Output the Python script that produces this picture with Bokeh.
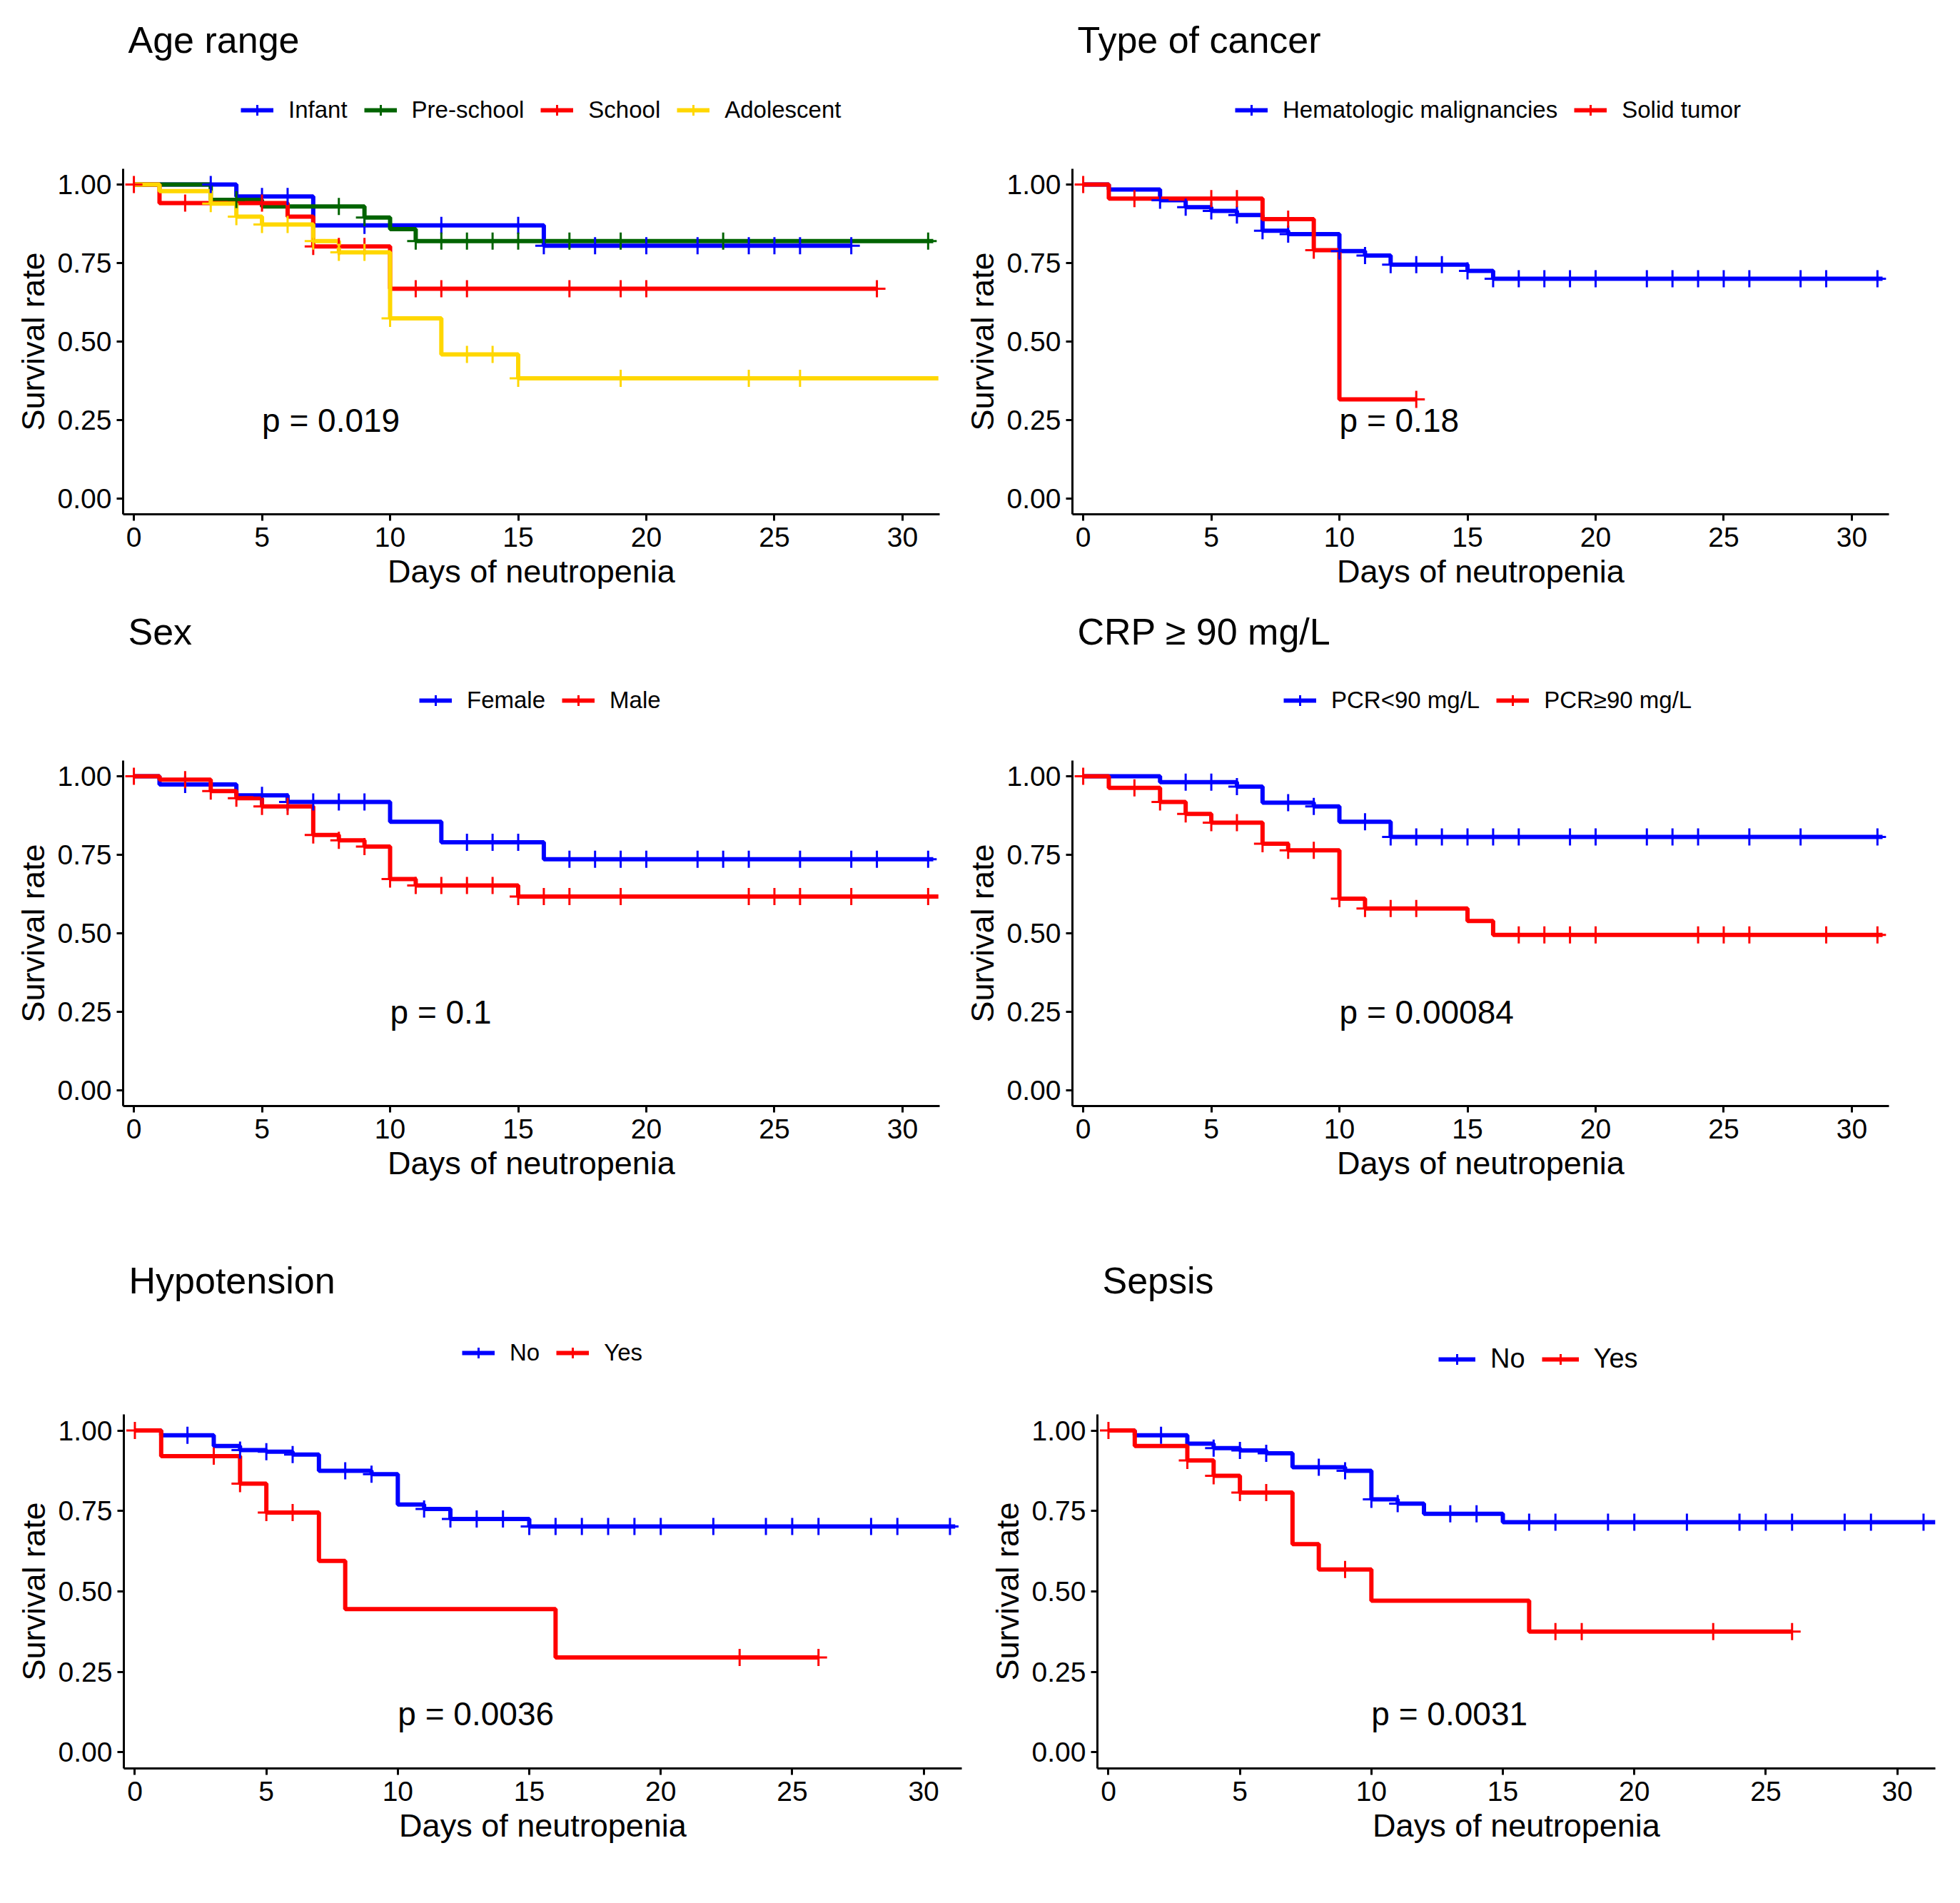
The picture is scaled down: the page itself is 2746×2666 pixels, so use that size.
from bokeh.plotting import figure
from bokeh.models import Range1d, FixedTicker, Legend, LegendItem, NumeralTickFormatter, Spacer
from bokeh.layouts import column, row
from bokeh.embed import file_html
from bokeh.resources import INLINE
from bokeh.core.properties import value

FONT = "Liberation Sans"
NAN = float("nan")

# ------------------------------------------------------------------ data
x_ticks = [0, 5, 10, 15, 20, 25, 30]
y_ticks = [0.0, 0.25, 0.5, 0.75, 1.0]
x_title = "Days of neutropenia"
y_title = "Survival rate"

# Age range
age_infant_time = [0, 4, 7, 16]
age_infant_surv = [1.0, 0.962, 0.870, 0.805]
age_infant_cens = [3, 5, 6, 9, 12, 15, 16, 18, 20, 22, 24, 25, 26, 28]
age_infant_end = 28

age_pre_time = [0, 3, 5, 9, 10, 11]
age_pre_surv = [1.0, 0.951, 0.930, 0.895, 0.858, 0.820]
age_pre_cens = [4, 8, 9, 11, 12, 13, 14, 15, 17, 19, 23, 31]
age_pre_end = 31.2

age_school_time = [0, 1, 6, 7, 10]
age_school_surv = [1.0, 0.941, 0.898, 0.803, 0.668]
age_school_cens = [0, 2, 5, 7, 8, 9, 11, 12, 13, 17, 19, 20, 29]
age_school_end = 29

age_adol_time = [0, 1, 3, 4, 5, 7, 8, 10, 12, 15]
age_adol_surv = [1.0, 0.979, 0.939, 0.898, 0.873, 0.820, 0.784, 0.574, 0.459, 0.383]
age_adol_cens = [3, 4, 5, 6, 7, 8, 9, 10, 13, 14, 15, 19, 24, 26]
age_adol_end = 31.4

# Type of cancer
ca_hem_time = [0, 1, 3, 4, 5, 6, 7, 8, 10, 11, 12, 15, 16]
ca_hem_surv = [1.0, 0.984, 0.950, 0.928, 0.916, 0.903, 0.853, 0.842, 0.788, 0.774, 0.745, 0.725, 0.700]
ca_hem_cens = [3, 4, 5, 6, 7, 8, 10, 11, 12, 13, 14, 15, 16, 17, 18, 19, 20, 22, 23, 24, 25, 26, 28, 29, 31]
ca_hem_end = 31.2

ca_solid_time = [0, 1, 7, 9, 10]
ca_solid_surv = [1.0, 0.955, 0.890, 0.791, 0.316]
ca_solid_cens = [0, 2, 5, 6, 8, 9, 13]
ca_solid_end = 13

# Sex
sex_f_time = [0, 1, 4, 6, 10, 12, 16]
sex_f_surv = [1.0, 0.974, 0.939, 0.918, 0.855, 0.790, 0.736]
sex_f_cens = [2, 5, 6, 7, 8, 9, 13, 14, 15, 17, 18, 19, 20, 22, 23, 24, 26, 28, 29, 31]
sex_f_end = 31.2

sex_m_time = [0, 1, 3, 4, 5, 7, 8, 9, 10, 11, 15]
sex_m_surv = [1.0, 0.989, 0.953, 0.930, 0.904, 0.813, 0.796, 0.776, 0.673, 0.652, 0.617]
sex_m_cens = [0, 2, 3, 4, 5, 6, 7, 8, 9, 10, 11, 12, 13, 14, 15, 16, 17, 19, 24, 25, 26, 28, 31]
sex_m_end = 31.4

# CRP
crp_lo_time = [0, 3, 6, 7, 9, 10, 12]
crp_lo_surv = [1.0, 0.981, 0.967, 0.916, 0.904, 0.855, 0.807]
crp_lo_cens = [4, 5, 6, 8, 9, 11, 12, 13, 14, 15, 16, 17, 19, 20, 22, 23, 24, 26, 28, 31]
crp_lo_end = 31.2

crp_hi_time = [0, 1, 3, 4, 5, 7, 8, 10, 11, 15, 16]
crp_hi_surv = [1.0, 0.963, 0.918, 0.880, 0.852, 0.785, 0.764, 0.610, 0.579, 0.539, 0.495]
crp_hi_cens = [0, 2, 3, 4, 5, 6, 7, 8, 9, 10, 11, 12, 13, 17, 18, 19, 20, 24, 25, 26, 29, 31]
crp_hi_end = 31.2

# Hypotension
hyp_no_time = [0, 1, 3, 4, 5, 6, 7, 9, 10, 11, 12, 15]
hyp_no_surv = [1.0, 0.985, 0.952, 0.939, 0.934, 0.925, 0.875, 0.864, 0.770, 0.756, 0.725, 0.702]
hyp_no_cens = [2, 4, 5, 6, 8, 9, 11, 12, 13, 14, 15, 16, 17, 18, 19, 20, 22, 24, 25, 26, 28, 29, 31]
hyp_no_end = 31.2

hyp_yes_time = [0, 1, 4, 5, 7, 8, 16]
hyp_yes_surv = [1.0, 0.920, 0.835, 0.745, 0.595, 0.445, 0.295]
hyp_yes_cens = [0, 3, 4, 5, 6, 23, 26]
hyp_yes_end = 26

# Sepsis
sep_no_time = [0, 1, 3, 4, 5, 6, 7, 9, 10, 11, 12, 15]
sep_no_surv = [1.0, 0.985, 0.959, 0.945, 0.938, 0.929, 0.886, 0.875, 0.786, 0.773, 0.741, 0.715]
sep_no_cens = [2, 4, 5, 6, 8, 9, 10, 11, 13, 14, 16, 17, 19, 20, 22, 24, 25, 26, 28, 29, 31]
sep_no_end = 31.45

sep_yes_time = [0, 1, 3, 4, 5, 7, 8, 10, 16]
sep_yes_surv = [1.0, 0.952, 0.907, 0.859, 0.807, 0.647, 0.568, 0.471, 0.375]
sep_yes_cens = [0, 3, 4, 5, 6, 9, 17, 18, 23, 26]
sep_yes_end = 26

BLUE, GREEN, RED, GOLD = "#0000FF", "#006400", "#FF0000", "#FFD700"

panels = [
    dict(title="Age range", pval="p = 0.019", px=5, py=0.25,
         series=[("Infant", BLUE, age_infant_time, age_infant_surv, age_infant_cens, age_infant_end),
                 ("Pre-school", GREEN, age_pre_time, age_pre_surv, age_pre_cens, age_pre_end),
                 ("School", RED, age_school_time, age_school_surv, age_school_cens, age_school_end),
                 ("Adolescent", GOLD, age_adol_time, age_adol_surv, age_adol_cens, age_adol_end)]),
    dict(title="Type of cancer", pval="p = 0.18", px=10, py=0.25,
         series=[("Hematologic malignancies", BLUE, ca_hem_time, ca_hem_surv, ca_hem_cens, ca_hem_end),
                 ("Solid tumor", RED, ca_solid_time, ca_solid_surv, ca_solid_cens, ca_solid_end)]),
    dict(title="Sex", pval="p = 0.1", px=10, py=0.25,
         series=[("Female", BLUE, sex_f_time, sex_f_surv, sex_f_cens, sex_f_end),
                 ("Male", RED, sex_m_time, sex_m_surv, sex_m_cens, sex_m_end)]),
    dict(title="CRP ≥ 90 mg/L", pval="p = 0.00084", px=10, py=0.25,
         series=[("PCR<90 mg/L", BLUE, crp_lo_time, crp_lo_surv, crp_lo_cens, crp_lo_end),
                 ("PCR≥90 mg/L", RED, crp_hi_time, crp_hi_surv, crp_hi_cens, crp_hi_end)]),
    dict(title="Hypotension", pval="p = 0.0036", px=10, py=0.12,
         series=[("No", BLUE, hyp_no_time, hyp_no_surv, hyp_no_cens, hyp_no_end),
                 ("Yes", RED, hyp_yes_time, hyp_yes_surv, hyp_yes_cens, hyp_yes_end)]),
    dict(title="Sepsis", pval="p = 0.0031", px=10, py=0.12,
         series=[("No", BLUE, sep_no_time, sep_no_surv, sep_no_cens, sep_no_end),
                 ("Yes", RED, sep_yes_time, sep_yes_surv, sep_yes_cens, sep_yes_end)]),
]

# layout per panel (pixels): width, header height, plot height, borders,
# title standoff, legend left (from frame) / bottom, legend font, key width
layouts = [
    dict(w=1330, hh=226, ph=618, bl=172, br=14, bb=124, ts=48, lx=165, ly=53, lf="33px", gw=46),
    dict(w=1330, hh=226, ph=618, bl=172, br=14, bb=124, ts=48, lx=228, ly=53, lf="33px", gw=46),
    dict(w=1330, hh=211, ph=618, bl=172, br=14, bb=124, ts=19, lx=415, ly=55, lf="33px", gw=46),
    dict(w=1330, hh=211, ph=618, bl=172, br=14, bb=124, ts=19, lx=296, ly=55, lf="33px", gw=46),
    dict(w=1364, hh=225, ph=630, bl=173, br=17, bb=124, ts=33, lx=474, ly=57, lf="33px", gw=46),
    dict(w=1364, hh=225, ph=630, bl=173, br=17, bb=124, ts=33, lx=478, ly=46, lf="38px", gw=52),
]
ROW3_GAP = 73


def surv_at(times, surv, t):
    v = surv[0]
    for ti, si in zip(times, surv):
        if ti <= t:
            v = si
    return v


def make_header(cfg, lay):
    h = figure(width=lay["w"], height=lay["hh"], title=cfg["title"],
               x_range=Range1d(0, 1), y_range=Range1d(0, 1),
               x_axis_type=None, y_axis_type=None,
               output_backend="svg", toolbar_location=None,
               min_border_left=lay["bl"], min_border_right=lay["br"],
               min_border_top=0, min_border_bottom=0)
    h.outline_line_color = None
    h.grid.visible = False
    h.title.align = "left"
    h.title.offset = 7
    h.title.standoff = lay["ts"]
    h.title.text_font = FONT
    h.title.text_font_size = "52px"
    h.title.text_font_style = "normal"
    h.title.text_color = "black"
    items = []
    for name, col, t, s, c, end in cfg["series"]:
        # legend keys only (nothing drawn in the header itself)
        lr = h.line(x=[NAN, NAN], y=[NAN, NAN], line_color=col, line_width=6)
        mr = h.scatter(x=[NAN], y=[NAN], marker="cross", size=24, line_color=col, line_width=3)
        items.append(LegendItem(label=name, renderers=[lr, mr]))
    leg = Legend(items=items, orientation="horizontal", location=(lay["lx"], lay["ly"]),
                 glyph_width=lay["gw"], glyph_height=38, label_height=38,
                 label_standoff=21, spacing=23, padding=0, margin=0,
                 border_line_alpha=0, background_fill_alpha=0,
                 label_text_font=FONT, label_text_font_size=lay["lf"],
                 label_text_color="black")
    h.add_layout(leg, "center")
    return h


def make_plot(cfg, lay):
    p = figure(width=lay["w"], height=lay["ph"], title=None,
               x_range=Range1d(-0.42, 31.45), y_range=Range1d(-0.05, 1.05),
               output_backend="svg", toolbar_location=None,
               min_border_left=lay["bl"], min_border_top=10,
               min_border_right=lay["br"], min_border_bottom=lay["bb"])
    p.outline_line_color = None
    p.xgrid.visible = False
    p.ygrid.visible = False
    p.background_fill_color = "white"

    for ax in (p.xaxis[0], p.yaxis[0]):
        ax.axis_line_width = 3
        ax.axis_line_color = "black"
        ax.major_tick_line_width = 3
        ax.major_tick_line_color = "black"
        ax.major_tick_out = 9
        ax.major_tick_in = 0
        ax.minor_tick_line_color = None
        ax.major_label_text_font = FONT
        ax.major_label_text_font_size = "39px"
        ax.major_label_text_color = "black"
        ax.axis_label_text_font = FONT
        ax.axis_label_text_font_style = "normal"
        ax.axis_label_text_color = "black"
    p.xaxis.ticker = FixedTicker(ticks=x_ticks)
    p.yaxis.ticker = FixedTicker(ticks=y_ticks)
    p.yaxis.formatter = NumeralTickFormatter(format="0.00")
    p.xaxis.axis_label = x_title
    p.yaxis.axis_label = y_title
    p.xaxis.axis_label_text_font_size = "45px"
    p.yaxis.axis_label_text_font_size = "45px"
    p.xaxis.major_label_standoff = 9
    p.yaxis.major_label_standoff = 7
    p.xaxis.axis_label_standoff = 6
    p.yaxis.axis_label_standoff = 6

    for name, col, t, s, c, end in cfg["series"]:
        xs = list(t) + [end]
        ys = list(s) + [s[-1]]
        p.step(xs, ys, mode="after", line_color=col, line_width=6)
    for name, col, t, s, c, end in cfg["series"]:
        cy = [surv_at(t, s, ci) for ci in c]
        p.scatter(c, cy, marker="cross", size=24, line_color=col, line_width=3)

    p.text(x=[cfg["px"]], y=[cfg["py"]], text=[cfg["pval"]],
           text_font=value(FONT), text_font_size="46px", text_color="black",
           text_baseline="middle", text_align="left")
    return p


cells = [column(make_header(c, l), make_plot(c, l)) for c, l in zip(panels, layouts)]

page = column(row(cells[0], cells[1]),
              row(cells[2], cells[3]),
              Spacer(height=ROW3_GAP),
              row(cells[4], cells[5]))

open("out.html", "w").write(file_html(page, INLINE))
